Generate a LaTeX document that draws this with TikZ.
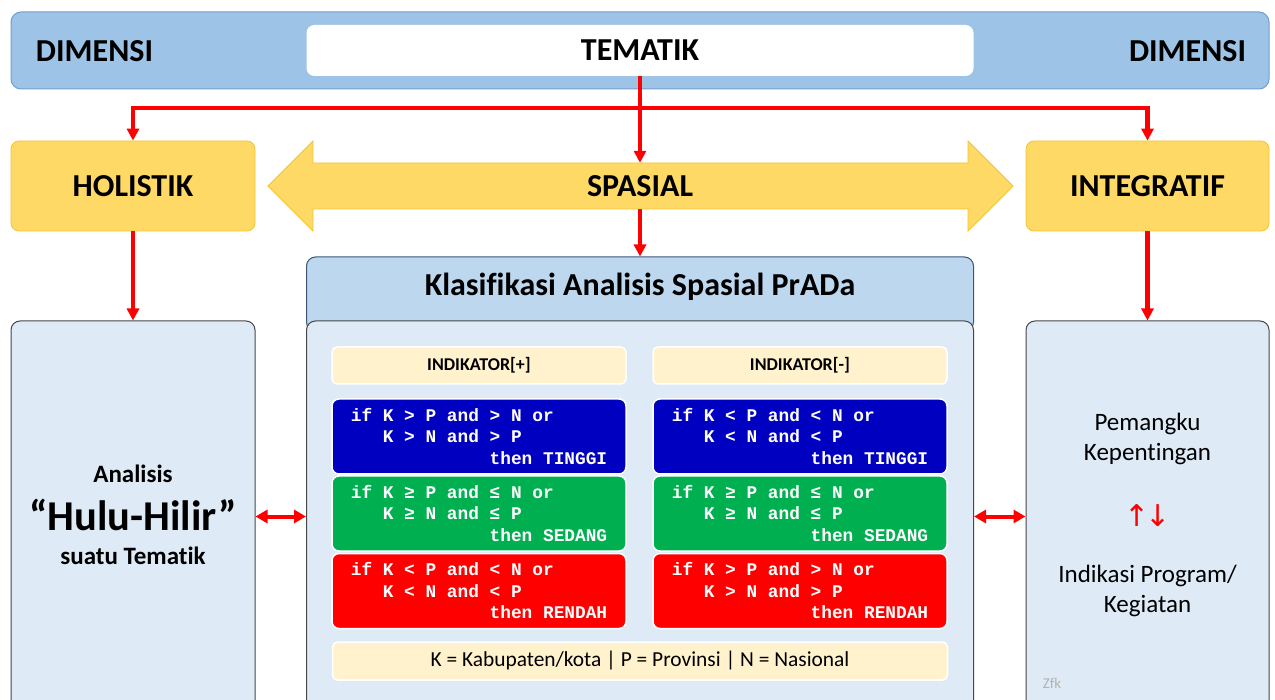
\documentclass[tikz,border=0pt]{standalone}
\usepackage{fontspec}
\setmainfont{Carlito}[Ligatures=NoCommon]
\newfontfamily\codefont{Liberation Mono}[WordSpace={1,0,0}]
\newfontfamily\symfont{DejaVu Sans}
\newcommand\codestyle{\codefont\bfseries\fontsize{17.8}{21.5}\selectfont}
\usetikzlibrary{arrows.meta}
\definecolor{dimblue}{RGB}{157,195,230}
\definecolor{dimline}{RGB}{115,158,205}
\definecolor{dimyellow}{RGB}{255,217,102}
\definecolor{dimyellowline}{RGB}{244,196,48}
\definecolor{headblue}{RGB}{189,215,238}
\definecolor{headline}{RGB}{60,85,120}
\definecolor{panelblue}{RGB}{222,235,247}
\definecolor{panelline}{RGB}{70,70,70}
\definecolor{cream}{RGB}{255,242,204}
\definecolor{codeblue}{RGB}{0,0,192}
\definecolor{codegreen}{RGB}{0,176,80}
\definecolor{codered}{RGB}{255,0,0}
\definecolor{arrowred}{RGB}{255,0,0}

\begin{document}
\begin{tikzpicture}[x=1pt,y=-1pt,
  bigbold/.style={font=\bfseries\fontsize{32}{38}\selectfont},
  redarrow/.style={draw=arrowred,line width=4.5pt,-{Triangle[width=12pt,length=12pt]}},
  redboth/.style={draw=arrowred,line width=4pt,{Triangle[width=13pt,length=12pt]}-{Triangle[width=13pt,length=12pt]}},
  yellowbox/.style={draw=dimyellowline,fill=dimyellow,rounded corners=8pt,line width=0.8pt,minimum height=90pt,bigbold},
  panel/.style={draw=panelline,fill=panelblue,rounded corners=9pt,line width=1pt,minimum height=391pt},
  creambox/.style={draw=white,fill=cream,rounded corners=5pt,line width=1.5pt,minimum width=294pt,minimum height=37pt},
  codebox/.style={draw=white,line width=1.5pt,rounded corners=7pt,text=white,minimum width=294pt,minimum height=75pt,
    inner xsep=0pt,align=left,font=\codestyle}
]
\clip (0,0) rectangle (1275,700);

% dimensi bar:
\node[draw=dimline,fill=dimblue,rounded corners=10pt,line width=1pt,minimum width=1258pt,minimum height=77pt] (dimensi) at (640,50.5) {};
\node[fill=white,rounded corners=8pt,minimum width=667pt,minimum height=51pt,bigbold] (tematik) at (640,50.5) {TEMATIK};
\node[bigbold] (dimkiri) at (94.5,51) {DIMENSI};
\node[bigbold] (dimkanan) at (1187.5,51) {DIMENSI};

% holistik, spasial, integratif:
\node[yellowbox,minimum width=244pt] (holistik) at (133,186) {HOLISTIK};
\node[yellowbox,minimum width=243pt] (integratif) at (1147.5,186) {INTEGRATIF};
\draw[draw=dimyellowline,fill=dimyellow,line width=0.8pt] (268,186) -- (313,141) -- (313,163) -- (968,163) -- (968,141)
  -- (1013,186) -- (968,231) -- (968,209) -- (313,209) -- (313,231) -- cycle;
\node[minimum width=655pt,minimum height=46pt,inner sep=0pt,bigbold] (spasial) at (640,186) {SPASIAL};

% klasifikasi:
\node[draw=headline,fill=headblue,rounded corners=9pt,line width=1pt,minimum width=667pt,minimum height=74pt] (klashead) at (640,294) {};
\node[font=\bfseries\fontsize{32}{38}\selectfont] (klastitle) at (640,287) {Klasifikasi Analisis Spasial PrADa};
\node[panel,minimum width=667pt] (klasbody) at (640,516.5) {};

\node[creambox,font=\bfseries\fontsize{18}{22}\selectfont] (indplus) at (479,365.5) {INDIKATOR[+]};
\node[creambox,font=\bfseries\fontsize{18}{22}\selectfont] (indminus) at (800,365.5) {INDIKATOR[-]};

\node[codebox,fill=codeblue] (plustinggi) at (479,436.5)
  {if K > P and > N or\\\hphantom{xxx}K > N and > P\\\hphantom{xxxxxxxxxxxxx}then TINGGI};
\node[codebox,fill=codegreen] (plussedang) at (479,513.5)
  {if K ≥ P and ≤ N or\\\hphantom{xxx}K ≥ N and ≤ P\\\hphantom{xxxxxxxxxxxxx}then SEDANG};
\node[codebox,fill=codered] (plusrendah) at (479,591)
  {if K < P and < N or\\\hphantom{xxx}K < N and < P\\\hphantom{xxxxxxxxxxxxx}then RENDAH};
\node[codebox,fill=codeblue] (mintinggi) at (800,436.5)
  {if K < P and < N or\\\hphantom{xxx}K < N and < P\\\hphantom{xxxxxxxxxxxxx}then TINGGI};
\node[codebox,fill=codegreen] (minsedang) at (800,513.5)
  {if K ≥ P and ≤ N or\\\hphantom{xxx}K ≥ N and ≤ P\\\hphantom{xxxxxxxxxxxxx}then SEDANG};
\node[codebox,fill=codered] (minrendah) at (800,591)
  {if K > P and > N or\\\hphantom{xxx}K > N and > P\\\hphantom{xxxxxxxxxxxxx}then RENDAH};

\node[creambox,minimum width=615pt,minimum height=38pt,font=\fontsize{21.4}{25}\selectfont] (legenda) at (640,661)
  {K = Kabupaten/kota | P = Provinsi | N = Nasional};

% side panels:
\node[panel,minimum width=244pt] (hulu) at (133,516.5) {};
\node[font=\bfseries\fontsize{25}{30}\selectfont] (hulu1) at (133,474) {Analisis};
\node[font=\bfseries\fontsize{42.5}{50}\selectfont] (hulu2) at (133,515) {“Hulu-Hilir”};
\node[font=\bfseries\fontsize{25}{30}\selectfont] (hulu3) at (133,556) {suatu Tematik};

\node[panel,minimum width=243pt] (pemangku) at (1147.5,516.5) {};
\node[font=\fontsize{25}{30}\selectfont,align=center] (pem1) at (1147.5,439) {Pemangku\\Kepentingan};
\node[font=\symfont\fontsize{30}{34}\selectfont,text=arrowred,inner xsep=0pt] (pem2) at (1147.5,516) {↑\kern-4pt↓};
\node[font=\fontsize{25}{30}\selectfont,align=center] (pem3) at (1147.5,590.5) {Indikasi Program/\\Kegiatan};
\node[font=\fontsize{15}{17}\selectfont,text=black!30] (zfk) at (1052,683) {Zfk};

% connectors:
\draw[redarrow] (tematik.south) -- (spasial.north);
\draw[redarrow] (tematik.south) -- ++(0,32) -| (holistik.north);
\draw[redarrow] (tematik.south) -- ++(0,32) -| (integratif.north);
\draw[redarrow] (spasial.south) -- (klashead.north);
\draw[redarrow] (holistik.south) -- (hulu.north);
\draw[redarrow] (integratif.south) -- (pemangku.north);
\draw[redboth] (hulu.east) -- (klasbody.west);
\draw[redboth] (klasbody.east) -- (pemangku.west);

\end{tikzpicture}
\end{document}
